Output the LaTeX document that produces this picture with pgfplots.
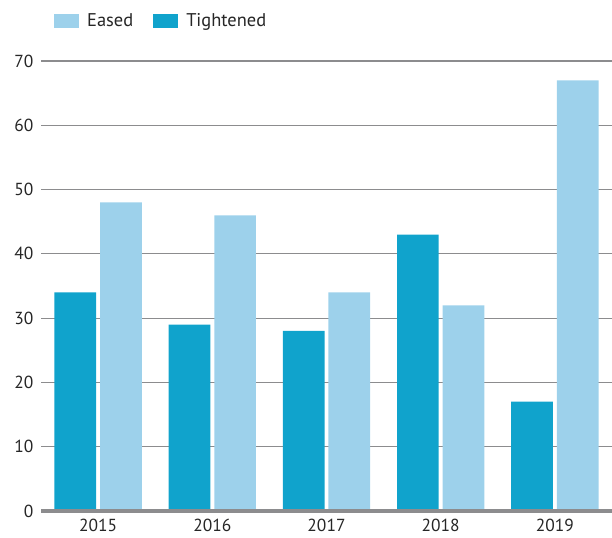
\documentclass[border=0pt]{standalone}
\usepackage{pgfplots}
\pgfplotsset{compat=1.18}
\usepackage{fontspec}
\setmainfont{PT Sans}
\definecolor{eased}{HTML}{9DD1EB}
\definecolor{tight}{HTML}{10A3CC}
\definecolor{gridc}{HTML}{8C8C8E}
\begin{document}
\begin{tikzpicture}
\useasboundingbox (-41bp,-27bp) rectangle (571bp,511bp);
\begin{axis}[
  at={(0,0)}, anchor=south west,
  scale only axis,
  width=571bp, height=450bp,
  xmin=-0.5, xmax=4.5,
  ymin=0, ymax=70,
  ytick={0,10,...,70},
  xtick={0,1,2,3,4},
  xticklabels={2015,2016,2017,2018,2019},
  axis line style={draw=none},
  major tick length=0pt,
  ymajorgrids,
  grid style={gridc, line width=1.2bp},
  ybar,
  bar width=0.365,
  /pgf/number format/assume math mode=true,
  ticklabel style={font=\fontsize{17.5}{20}\selectfont, text=black!85},
  yticklabel style={xshift=-4bp},
  xticklabel style={yshift=-5bp},
  legend style={draw=none, at={(13bp,490bp)}, anchor=west,
    font=\fontsize{18.5}{21}\selectfont, column sep=0bp, inner sep=0pt,
    nodes={inner sep=0pt}, text=black!85},
  legend columns=2,
  legend image code/.code={\fill[#1] (0bp,-7bp) rectangle (25bp,7bp);},
  clip=false,
]
\addplot[fill=eased, draw=none, bar shift=0.2] coordinates {(0,48) (1,46) (2,34) (3,32) (4,67)};
\addlegendentry{\kern8bp Eased\kern20bp\null}
\addplot[fill=tight, draw=none, bar shift=-0.2] coordinates {(0,34) (1,29) (2,28) (3,43) (4,17)};
\addlegendentry{\kern8bp Tightened}
\draw[gridc, line width=3bp] (axis cs:-0.5,0) -- (axis cs:4.5,0);
\end{axis}
\end{tikzpicture}
\end{document}
